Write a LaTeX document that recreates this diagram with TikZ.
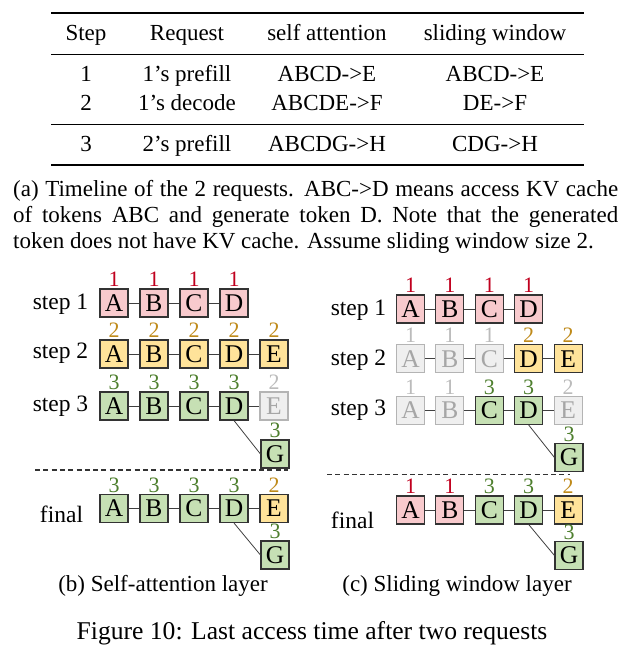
\documentclass[tikz,border=0pt]{standalone}
\usepackage{fontspec}
\setmainfont{Liberation Serif}

% box colours: f = fill, d = border, t = letter, n = number above
\definecolor{fpk}{HTML}{F8CACD}
\definecolor{fyl}{HTML}{FFE39A}
\definecolor{fgn}{HTML}{C6E0B4}
\definecolor{fgy}{HTML}{EFEFEF}
\definecolor{dpk}{HTML}{333333}
\definecolor{dyl}{HTML}{333333}
\definecolor{dgn}{HTML}{333333}
\definecolor{dgy}{HTML}{B4B4B4}
\definecolor{tpk}{HTML}{000000}
\definecolor{tyl}{HTML}{000000}
\definecolor{tgn}{HTML}{000000}
\definecolor{tgy}{HTML}{A6A6A6}
\definecolor{npk}{HTML}{C0001E}
\definecolor{nyl}{HTML}{BF8A1A}
\definecolor{ngn}{HTML}{4E7F2E}
\definecolor{ngy}{HTML}{BBBBBB}

\begin{document}
\begin{tikzpicture}[x=1pt, y=-1pt,
	tok/.style={draw=d#1, fill=f#1, text=t#1, line width=1.1pt, minimum size=28pt, inner sep=0pt, font=\fontsize{25.5}{26}\selectfont},
	num/.style={text=n#1, inner sep=0pt, label distance=1.5pt, font=\fontsize{22}{22}\selectfont},
	link/.style={draw=black!75, line width=0.8pt},
	rowlab/.style={anchor=base, inner sep=0pt, font=\fontsize{23.5}{28}\selectfont},
	cell/.style={anchor=base, inner sep=0pt, font=\fontsize{23}{28}\selectfont},
	capt/.style={anchor=base, inner sep=0pt, font=\fontsize{23}{28}\selectfont},
	sep/.style={black!80, line width=1.1pt, dash pattern=on 5pt off 3.3pt}]
	\useasboundingbox (0,0) rectangle (633,648);

	% Tabla (a)
	\draw[line width=1.8pt] (51,13) -- (584,13);
	\draw[line width=1pt] (51,54) -- (584,54);
	\draw[line width=1pt] (51,124) -- (584,124);
	\draw[line width=1.8pt] (51,165) -- (584,165);
	\foreach \x/\t [count=\i] in {86/Step, 187/Request, 327/self attention, 495/sliding window}
		\node[cell] (h\i) at (\x,40.7) {\t};
	\foreach \y/\s/\q/\sa/\sw [count=\r] in {81.7/1/1's prefill/ABCD->E/ABCD->E, 110/2/1's decode/ABCDE->F/DE->F, 151.7/3/2's prefill/ABCDG->H/CDG->H}{
		\node[cell] (r\r-1) at (86,\y) {\s};
		\node[cell] (r\r-2) at (187,\y) {\q};
		\node[cell] (r\r-3) at (327,\y) {\sa};
		\node[cell] (r\r-4) at (495,\y) {\sw};
	}
	\node[capt, anchor=base west] (capa1) at (13,196.7) {\makebox[605pt][s]{(a) Timeline of the 2 requests. ABC->D means access KV cache}};
	\node[capt, anchor=base west] (capa2) at (13,222.5) {\makebox[605pt][s]{of tokens ABC and generate token D. Note that the generated}};
	\node[capt, anchor=base west] (capa3) at (13,248) {token does not have KV cache. Assume sliding window size 2.};

	% Self attention (b)
	\node[rowlab] (sa1) at (60.5,309) {step 1};
	\foreach \tk/\kd/\nm [count=\i] in {A/pk/1, B/pk/1, C/pk/1, D/pk/1}
		\node[tok=\kd, label={[num=\kd]above:\nm}] (sa1-\tk) at ({114+40*(\i-1)},303) {\tk};
	\foreach \p/\q in {A/B, B/C, C/D} \draw[link] (sa1-\p) -- (sa1-\q);

	\node[rowlab] (sa2) at (60.5,358.3) {step 2};
	\foreach \tk/\kd/\nm [count=\i] in {A/yl/2, B/yl/2, C/yl/2, D/yl/2, E/yl/2}
		\node[tok=\kd, label={[num=\kd]above:\nm}] (sa2-\tk) at ({114+40*(\i-1)},354) {\tk};
	\foreach \p/\q in {A/B, B/C, C/D, D/E} \draw[link] (sa2-\p) -- (sa2-\q);

	\node[rowlab] (sa3) at (60.5,411.7) {step 3};
	\foreach \tk/\kd/\nm [count=\i] in {A/gn/3, B/gn/3, C/gn/3, D/gn/3, E/gy/2}
		\node[tok=\kd, label={[num=\kd]above:\nm}] (sa3-\tk) at ({114+40*(\i-1)},406) {\tk};
	\node[tok=gn, label={[num=gn]above:3}] (sa3-G) at (275,454) {G};
	\foreach \p/\q in {A/B, B/C, C/D, D/E} \draw[link] (sa3-\p) -- (sa3-\q);
	\draw[link] (sa3-D.south) -- (sa3-G.west);

	\draw[sep] (35,470) -- (288,470);

	\node[rowlab] (safin) at (61.5,522.7) {final};
	\foreach \tk/\kd/\nm [count=\i] in {A/gn/3, B/gn/3, C/gn/3, D/gn/3, E/yl/2}
		\node[tok=\kd, label={[num=\kd]above:\nm}] (safin-\tk) at ({114+40*(\i-1)},508.5) {\tk};
	\node[tok=gn, label={[num=gn]above:3}] (safin-G) at (275,555) {G};
	\foreach \p/\q in {A/B, B/C, C/D, D/E} \draw[link] (safin-\p) -- (safin-\q);
	\draw[link] (safin-D.south) -- (safin-G.west);
	\node[capt] (capb) at (163,591.7) {(b) Self-attention layer};

	% Sliding window (c)
	\node[rowlab] (sw1) at (358.5,315) {step 1};
	\foreach \tk/\kd/\nm [count=\i] in {A/pk/1, B/pk/1, C/pk/1, D/pk/1}
		\node[tok=\kd, label={[num=\kd]above:\nm}] (sw1-\tk) at ({410.5+39.4*(\i-1)},309) {\tk};
	\foreach \p/\q in {A/B, B/C, C/D} \draw[link] (sw1-\p) -- (sw1-\q);

	\node[rowlab] (sw2) at (358.5,365) {step 2};
	\foreach \tk/\kd/\nm [count=\i] in {A/gy/1, B/gy/1, C/gy/1, D/yl/2, E/yl/2}
		\node[tok=\kd, label={[num=\kd]above:\nm}] (sw2-\tk) at ({410.5+39.4*(\i-1)},358.7) {\tk};
	\foreach \p/\q in {A/B, B/C, C/D, D/E} \draw[link] (sw2-\p) -- (sw2-\q);

	\node[rowlab] (sw3) at (358.5,415.7) {step 3};
	\foreach \tk/\kd/\nm [count=\i] in {A/gy/1, B/gy/1, C/gn/3, D/gn/3, E/gy/2}
		\node[tok=\kd, label={[num=\kd]above:\nm}] (sw3-\tk) at ({410.5+39.4*(\i-1)},410.5) {\tk};
	\node[tok=gn, label={[num=gn]above:3}] (sw3-G) at (569,457.5) {G};
	\foreach \p/\q in {A/B, B/C, C/D, D/E} \draw[link] (sw3-\p) -- (sw3-\q);
	\draw[link] (sw3-D.south) -- (sw3-G.west);

	\draw[sep] (327,474.5) -- (570,474.5);

	\node[rowlab] (swfin) at (352.5,528.3) {final};
	\foreach \tk/\kd/\nm [count=\i] in {A/pk/1, B/pk/1, C/gn/3, D/gn/3, E/yl/2}
		\node[tok=\kd, label={[num=\kd]above:\nm}] (swfin-\tk) at ({410.5+39.4*(\i-1)},510) {\tk};
	\node[tok=gn, label={[num=gn]above:3}] (swfin-G) at (569,555.5) {G};
	\foreach \p/\q in {A/B, B/C, C/D, D/E} \draw[link] (swfin-\p) -- (swfin-\q);
	\draw[link] (swfin-D.south) -- (swfin-G.west);
	\node[capt] (capc) at (457,591.7) {(c) Sliding window layer};

	% Figure caption
	\node[capt, font=\fontsize{25.6}{30}\selectfont] (fig) at (312,639.3) {Figure 10: Last access time after two requests};
\end{tikzpicture}
\end{document}
